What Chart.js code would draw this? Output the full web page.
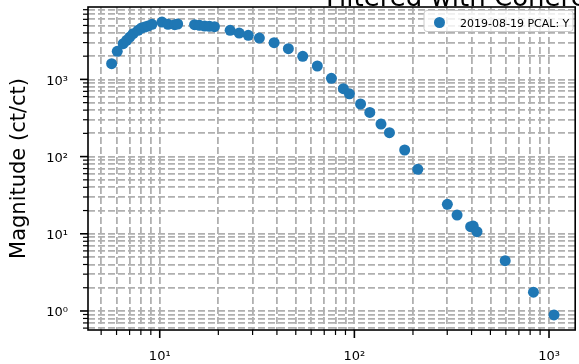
<!DOCTYPE html>
<html>
<head>
<meta charset="utf-8">
<script src="https://cdn.jsdelivr.net/npm/chart.js@4.4.0/dist/chart.umd.min.js"></script>
<style>
  body { margin: 0; background: #fff; }
  #c { display: block; }
</style>
</head>
<body>
<canvas id="c" width="579" height="364"></canvas>
<script>
// frequency (Hz) and magnitude
const freqs = [5.66, 6.05, 6.49, 6.76, 7.02, 7.30, 7.74, 8.06, 8.38, 8.71, 9.13,
    10.27, 11.03, 11.93, 12.36, 15.1, 16.0, 17.0, 18.0, 19.1, 23.0, 25.6, 28.5,
    32.5, 38.7, 45.8, 54.3, 64.5, 76.2, 87.8, 94.3, 107.6, 120, 137, 151.4, 181.3,
    211.8, 300.4, 337, 395.7, 408, 426.6, 595.6, 831.8, 1061];
const mags = [1597, 2312, 2901, 3210, 3540, 3909, 4325, 4634, 4775, 4918, 5171,
    5540, 5171, 5112, 5220, 5112, 5020, 4918, 4875, 4815, 4325, 3990, 3725,
    3437, 2988, 2499, 1992, 1492, 1033, 758, 651, 480, 373, 264, 204, 121.8,
    68.5, 24.1, 17.5, 12.36, 12.6, 10.65, 4.48, 1.75, 0.888];
const seriesLabel = '2019-08-19 PCAL: Y';
const titleText = 'Filtered with Coherence';
const xRange = [4.28, 1363];
const yRange = [0.567, 8670];

const FONT = "'DejaVu Sans', sans-serif";
const SUP = {'0': '\u2070', '1': '\u00b9', '2': '\u00b2', '3': '\u00b3', '-': '\u207b'};

function decadeLabel(v) {
    const e = Math.log10(v);
    if (Math.abs(e - Math.round(e)) > 1e-9) return '';
    return '10' + String(Math.round(e)).split('').map(c => SUP[c]).join('');
}

// 1..9 x 10^n ticks like matplotlib's LogLocator
function logTicks(scale) {
    const t = [];
    const lo = Math.floor(Math.log10(scale.min)), hi = Math.ceil(Math.log10(scale.max));
    for (let e = lo; e <= hi; e++) {
        for (let d = 1; d <= 9; d++) {
            const v = d * Math.pow(10, e);
            if (v > scale.min && v < scale.max) t.push({value: v, major: d === 1});
        }
    }
    scale.ticks = t;
}

const framePlugin = {
    id: 'frame',
    afterDraw(chart) {
        const {ctx, chartArea: a, scales} = chart;
        ctx.save();
        ctx.strokeStyle = '#000';
        // tick marks
        scales.x.ticks.forEach(t => {
            const px = scales.x.getPixelForValue(t.value);
            ctx.lineWidth = t.major ? 1.6 : 1.2;
            ctx.beginPath();
            ctx.moveTo(px, a.bottom);
            ctx.lineTo(px, a.bottom + (t.major ? 8 : 5));
            ctx.stroke();
        });
        scales.y.ticks.forEach(t => {
            const py = scales.y.getPixelForValue(t.value);
            ctx.lineWidth = t.major ? 1.6 : 1.2;
            ctx.beginPath();
            ctx.moveTo(a.left, py);
            ctx.lineTo(a.left - (t.major ? 8 : 5), py);
            ctx.stroke();
        });
        // axes box
        ctx.lineWidth = 1.6;
        ctx.strokeRect(a.left, a.top, a.right - a.left, a.bottom - a.top);

        // legend
        const ds = chart.data.datasets[0];
        ctx.fillStyle = 'rgba(255,255,255,0.8)';
        ctx.strokeStyle = '#cccccc';
        ctx.lineWidth = 1;
        ctx.beginPath();
        ctx.roundRect(424, 10.5, 149, 21, 3);
        ctx.fill();
        ctx.stroke();
        ctx.fillStyle = ds.backgroundColor;
        ctx.beginPath();
        ctx.arc(439.5, 22.5, 5.5, 0, Math.PI * 2);
        ctx.fill();
        ctx.fillStyle = '#000';
        ctx.font = '11px ' + FONT;
        ctx.textBaseline = 'alphabetic';
        ctx.fillText(ds.label, 460, 26.7);

        // title, mostly cut off by the top edge
        ctx.font = '26px ' + FONT;
        ctx.fillText(titleText, 326, 6);
        ctx.restore();
    }
};

const gridOpts = {color: '#b0b0b0', lineWidth: 1.8, drawTicks: false};
const borderOpts = {display: false, dash: [7, 3]};

new Chart(document.getElementById('c'), {
    type: 'scatter',
    data: {
        datasets: [{
            label: seriesLabel,
            data: freqs.map((f, i) => ({x: f, y: mags[i]})),
            backgroundColor: '#1f77b4',
            borderWidth: 0,
            pointRadius: 5.5,
            pointHoverRadius: 5.5
        }]
    },
    options: {
        responsive: false,
        animation: false,
        devicePixelRatio: 1,
        layout: {autoPadding: false, padding: {top: 7, right: 2, left: 0, bottom: 0}},
        plugins: {legend: {display: false}, tooltip: {enabled: false}, title: {display: false}},
        scales: {
            x: {
                type: 'logarithmic',
                min: xRange[0],
                max: xRange[1],
                afterBuildTicks: logTicks,
                afterFit(scale) { scale.height = 34; },
                grid: gridOpts,
                border: borderOpts,
                ticks: {
                    autoSkip: false,
                    maxRotation: 0,
                    padding: 19,
                    color: '#000',
                    font: {family: FONT, size: 13},
                    callback: v => decadeLabel(v)
                }
            },
            y: {
                type: 'logarithmic',
                min: yRange[0],
                max: yRange[1],
                afterBuildTicks: logTicks,
                afterFit(scale) {
                    scale.width = 88;
                    scale.paddingTop = 0;
                    scale.paddingBottom = 0;
                },
                grid: gridOpts,
                border: borderOpts,
                title: {
                    display: true,
                    text: 'Magnitude (ct/ct)',
                    color: '#000',
                    font: {family: FONT, size: 21},
                    padding: {top: 7, bottom: 0}
                },
                ticks: {
                    autoSkip: false,
                    padding: 20,
                    labelOffset: 2,
                    color: '#000',
                    font: {family: FONT, size: 13},
                    callback: v => decadeLabel(v)
                }
            }
        }
    },
    plugins: [framePlugin]
});
</script>
</body>
</html>
